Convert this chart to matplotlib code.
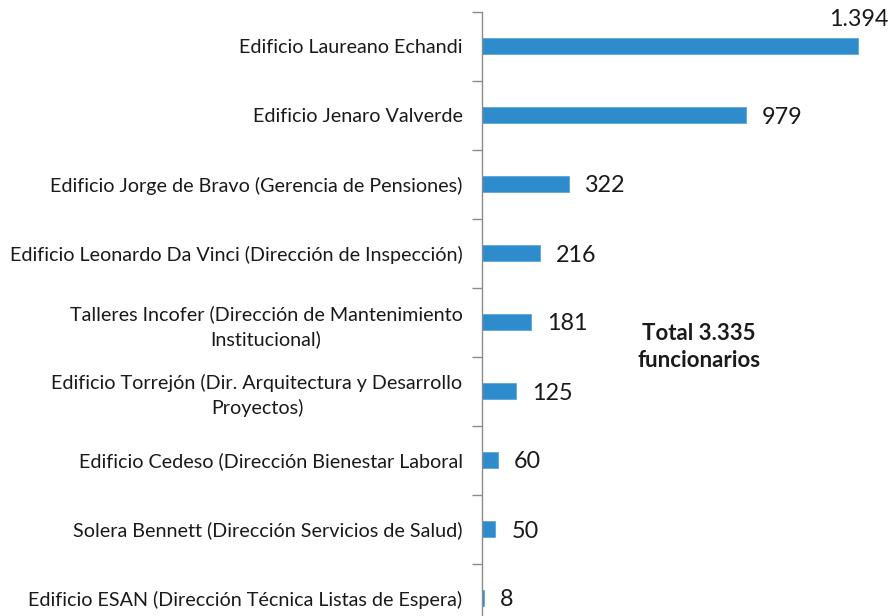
import matplotlib
matplotlib.use("Agg")
import matplotlib.pyplot as plt
import numpy as np

categories = [
    "Edificio Laureano Echandi",
    "Edificio Jenaro Valverde",
    "Edificio Jorge de Bravo (Gerencia de Pensiones)",
    "Edificio Leonardo Da Vinci (Dirección de Inspección)",
    "Talleres Incofer (Dirección de Mantenimiento\nInstitucional)",
    "Edificio Torrejón (Dir. Arquitectura y Desarrollo\nProyectos)",
    "Edificio Cedeso (Dirección Bienestar Laboral",
    "Solera Bennett (Dirección Servicios de Salud)",
    "Edificio ESAN (Dirección Técnica Listas de Espera)",
]
values = [1394, 979, 322, 216, 181, 125, 60, 50, 8]
value_labels = ["1.394", "979", "322", "216", "181", "125", "60", "50", "8"]
total_text = "Total 3.335\nfuncionarios"

plt.rcParams['font.family'] = ['Lato', 'DejaVu Sans']

fig = plt.figure(figsize=(8.93, 6.16), dpi=100)
ax = fig.add_axes([482/893, 1 - 632.5/616, 1 - 482/893, 621/616])

y = np.arange(len(categories))
ax.barh(y, values, height=0.23, color="#2E8BCC", edgecolor="#5AA7DC", linewidth=0.6)

ax.set_ylim(len(categories) - 0.5, -0.5)
ax.set_xlim(0, 1525)

for s in ["top", "right", "bottom"]:
    ax.spines[s].set_visible(False)
ax.spines["left"].set_color("#8C8C8C")
ax.spines["left"].set_linewidth(1.0)
ax.set_xticks([])
ax.set_yticks(y)
ax.set_yticklabels(categories, fontsize=14.2, color="#1a1a1a", linespacing=1.45)
for t in ax.get_yticklabels():
    t.set_multialignment("center")
ax.tick_params(axis="y", which="major", length=0, pad=14)
ax.set_yticks(np.arange(len(categories) + 1) - 0.5, minor=True)
ax.tick_params(axis="y", which="minor", length=7, color="#8C8C8C", width=1.0)

for i, (v, lab) in enumerate(zip(values, value_labels)):
    if i == 0:
        ax.annotate(lab, xy=(v, i), xytext=(31, 27), textcoords="offset pixels",
                    ha="right", va="center", fontsize=16.8, color="#1a1a1a")
    else:
        ax.annotate(lab, xy=(v, i), xytext=(16, -2), textcoords="offset pixels",
                    ha="left", va="center", fontsize=16.8, color="#1a1a1a")

fig.text(699/893, 1 - 347/616, total_text, ha="center", va="center",
         fontsize=16, fontweight="bold", color="#1a1a1a", linespacing=1.4)

fig.savefig("out.png", dpi=100)
